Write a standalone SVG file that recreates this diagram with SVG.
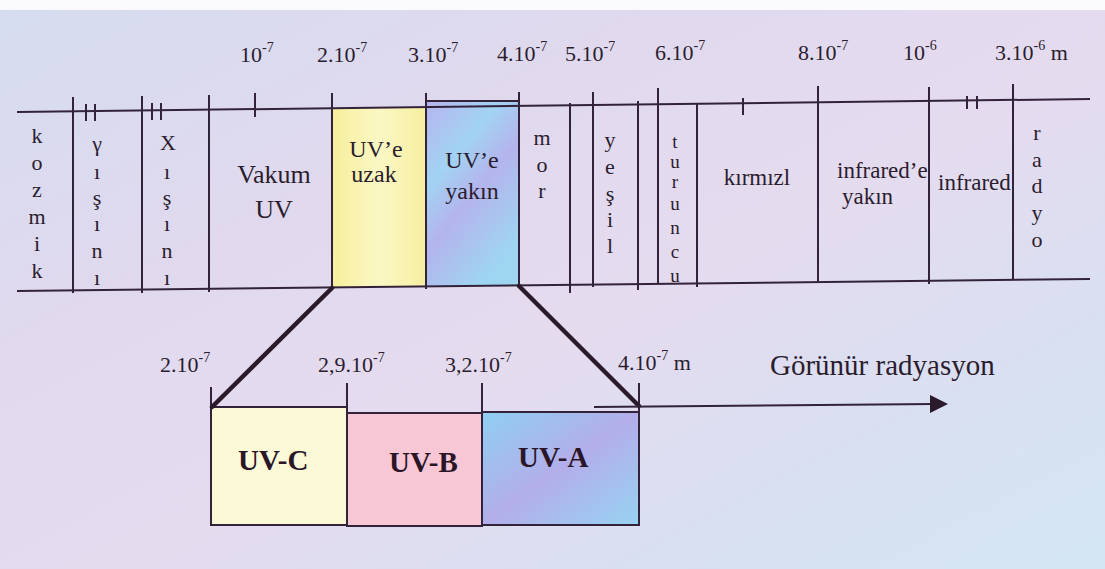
<svg xmlns="http://www.w3.org/2000/svg" width="1105" height="569" viewBox="0 0 1105 569" font-family="Liberation Serif, Times New Roman, DejaVu Serif, serif">
<defs>
<linearGradient id="bg" x1="0" y1="0" x2="1" y2="1">
<stop offset="0" stop-color="#d5dcef"/>
<stop offset="0.3" stop-color="#e0d9ee"/>
<stop offset="0.55" stop-color="#e5dbef"/>
<stop offset="0.8" stop-color="#d8e0f2"/>
<stop offset="1" stop-color="#d4e6f3"/>
</linearGradient>
<linearGradient id="yel" x1="0" y1="0" x2="1" y2="0">
<stop offset="0" stop-color="#f6ef9c"/>
<stop offset="0.5" stop-color="#fbf7c4"/>
<stop offset="1" stop-color="#f6efa0"/>
</linearGradient>
<linearGradient id="near" x1="0" y1="0" x2="0.6" y2="1">
<stop offset="0" stop-color="#b7b4ee"/>
<stop offset="0.35" stop-color="#a2d3f3"/>
<stop offset="0.6" stop-color="#b4b4ec"/>
<stop offset="1" stop-color="#9ed6f2"/>
</linearGradient>
<linearGradient id="uva" x1="0" y1="0" x2="1" y2="1">
<stop offset="0" stop-color="#8fcff2"/>
<stop offset="0.5" stop-color="#b3aeea"/>
<stop offset="1" stop-color="#97d3f2"/>
</linearGradient>
<style>
.ln{stroke:#33233a;stroke-width:2;fill:none}
.bx{stroke:#33233a;stroke-width:2}
.thk{stroke:#2a1a2a;stroke-width:4.5;fill:none;stroke-linecap:round}
.t{font-size:22px;fill:#2b1d2e}
.c{text-anchor:middle}
.m{font-size:26px}
.lb{font-size:23px}
.u{font-size:24px}
.b{font-weight:bold;font-size:29px;fill:#2b1628}
.sup{font-size:14px}
.tu{font-size:19px}
</style>
</defs>
<rect width="1105" height="569" fill="url(#bg)"/>
<rect width="1105" height="10" fill="#fbfafc"/>

<g id="band">
<polygon points="332,108.2 426,107.1 426,286.4 332,287.5" fill="url(#yel)"/>
<rect x="426" y="101" width="93" height="185" fill="url(#near)"/>
<line class="ln" x1="17" y1="112" x2="1090" y2="99"/>
<line class="ln" x1="17" y1="291" x2="1090" y2="279"/>
<line class="ln" x1="426" y1="101" x2="519" y2="101"/>
<g class="ln">
<line x1="73" y1="97" x2="73" y2="293"/>
<line x1="142" y1="96" x2="142" y2="293"/>
<line x1="209" y1="95" x2="209" y2="292"/>
<line x1="332" y1="93" x2="332" y2="290"/>
<line x1="426" y1="93" x2="426" y2="289"/>
<line x1="519" y1="92" x2="519" y2="288"/>
<line x1="570" y1="103" x2="570" y2="293"/>
<line x1="593" y1="92" x2="593" y2="287"/>
<line x1="638" y1="101" x2="638" y2="290"/>
<line x1="658" y1="88" x2="658" y2="284"/>
<line x1="697" y1="104" x2="697" y2="287"/>
<line x1="818" y1="86" x2="818" y2="283"/>
<line x1="929" y1="87" x2="929" y2="284"/>
<line x1="1013" y1="84" x2="1013" y2="280"/>
<line x1="255" y1="93" x2="255" y2="117"/>
<line x1="743" y1="98" x2="743" y2="115"/>
<line x1="86" y1="104" x2="86" y2="121"/>
<line x1="95" y1="104" x2="95" y2="121"/>
<line x1="152" y1="103" x2="152" y2="120"/>
<line x1="161" y1="103" x2="161" y2="120"/>
<line x1="967" y1="96" x2="967" y2="109"/>
<line x1="977" y1="96" x2="977" y2="109"/>
</g>
</g>

<g id="scale-top" class="t">
<text x="240" y="62">10<tspan class="sup" dy="-10">-7</tspan></text>
<text x="317" y="62">2.10<tspan class="sup" dy="-10">-7</tspan></text>
<text x="408" y="62">3.10<tspan class="sup" dy="-10">-7</tspan></text>
<text x="497" y="61">4.10<tspan class="sup" dy="-10">-7</tspan></text>
<text x="565" y="61">5.10<tspan class="sup" dy="-10">-7</tspan></text>
<text x="655" y="60">6.10<tspan class="sup" dy="-10">-7</tspan></text>
<text x="798" y="60">8.10<tspan class="sup" dy="-10">-7</tspan></text>
<text x="903" y="60">10<tspan class="sup" dy="-10">-6</tspan></text>
<text x="995" y="60">3.10<tspan class="sup" dy="-10">-6</tspan><tspan dy="10"> m</tspan></text>
</g>

<g id="kozmik" class="t c">
<text x="37" y="143">k</text><text x="37" y="170">o</text><text x="37" y="197">z</text>
<text x="37" y="224">m</text><text x="37" y="251">i</text><text x="37" y="278">k</text>
</g>
<g id="gamma" class="t c">
<text x="97" y="151">γ</text><text x="97" y="179">ı</text><text x="97" y="205">ş</text>
<text x="97" y="231">ı</text><text x="97" y="258">n</text><text x="97" y="285">ı</text>
</g>
<g id="xray" class="t c">
<text x="168" y="150">X</text><text x="167" y="179">ı</text><text x="167" y="205">ş</text>
<text x="167" y="231">ı</text><text x="167" y="258">n</text><text x="167" y="285">ı</text>
</g>
<g id="vakum" class="t c m">
<text x="274" y="183">Vakum</text><text x="274" y="218">UV</text>
</g>
<g id="uzak" class="t c u">
<text x="376" y="157">UV’e</text><text x="374" y="182">uzak</text>
</g>
<g id="yakin" class="t c u">
<text x="472" y="168">UV’e</text><text x="472" y="199">yakın</text>
</g>
<g id="mor" class="t c">
<text x="542" y="145">m</text><text x="542" y="172">o</text><text x="542" y="198">r</text>
</g>
<g id="yesil" class="t c">
<text x="610" y="147">y</text><text x="610" y="174">e</text><text x="610" y="201">ş</text>
<text x="610" y="227">i</text><text x="610" y="253">l</text>
</g>
<g id="turuncu" class="t c tu">
<text x="675" y="148">t</text><text x="675" y="168">u</text>
<text x="675" y="188">r</text><text x="675" y="210">u</text>
<text x="675" y="234">n</text><text x="675" y="258">c</text>
<text x="675" y="282">u</text>
</g>
<g id="kirmizi" class="t c lb">
<text x="757" y="185">kırmızl</text>
</g>
<g id="ir-yakin" class="t lb">
<text x="837" y="178">infrared’e</text><text x="842" y="204">yakın</text>
</g>
<g id="infrared" class="t lb">
<text x="938" y="190">infrared</text>
</g>
<g id="radyo" class="t c">
<text x="1037" y="140">r</text><text x="1037" y="167">a</text><text x="1037" y="193">d</text>
<text x="1037" y="220">y</text><text x="1037" y="247">o</text>
</g>

<g id="uv-boxes">
<rect x="211" y="407" width="136" height="118" fill="#fcf9d6" class="bx"/>
<rect x="347" y="413" width="135" height="113" fill="#f8c7d6" class="bx"/>
<rect x="482" y="412" width="157" height="113" fill="url(#uva)" class="bx"/>
<g class="ln">
<line x1="211" y1="387" x2="211" y2="407"/>
<line x1="347" y1="383" x2="347" y2="413"/>
<line x1="482" y1="383" x2="482" y2="412"/>
<line x1="639" y1="383" x2="639" y2="412"/>
</g>
<text class="b" x="238" y="470">UV-C</text>
<text class="b" x="389" y="472">UV-B</text>
<text class="b" x="518" y="467">UV-A</text>
</g>

<g id="scale-bottom" class="t">
<text x="160" y="372">2.10<tspan class="sup" dy="-10">-7</tspan></text>
<text x="318" y="372">2,9.10<tspan class="sup" dy="-10">-7</tspan></text>
<text x="445" y="372">3,2.10<tspan class="sup" dy="-10">-7</tspan></text>
<text x="618" y="370">4.10<tspan class="sup" dy="-10">-7</tspan><tspan dy="10"> m</tspan></text>
<text x="770" y="375" style="font-size:29px">Görünür radyasyon</text>
</g>

<g id="connectors">
<line class="thk" x1="332" y1="288" x2="212" y2="407"/>
<line class="thk" x1="519" y1="286" x2="639" y2="406"/>
<line class="ln" x1="594" y1="407" x2="934" y2="404"/>
<polygon points="930,395 948,404 930,413" fill="#2a1a2a"/>
</g>
</svg>
